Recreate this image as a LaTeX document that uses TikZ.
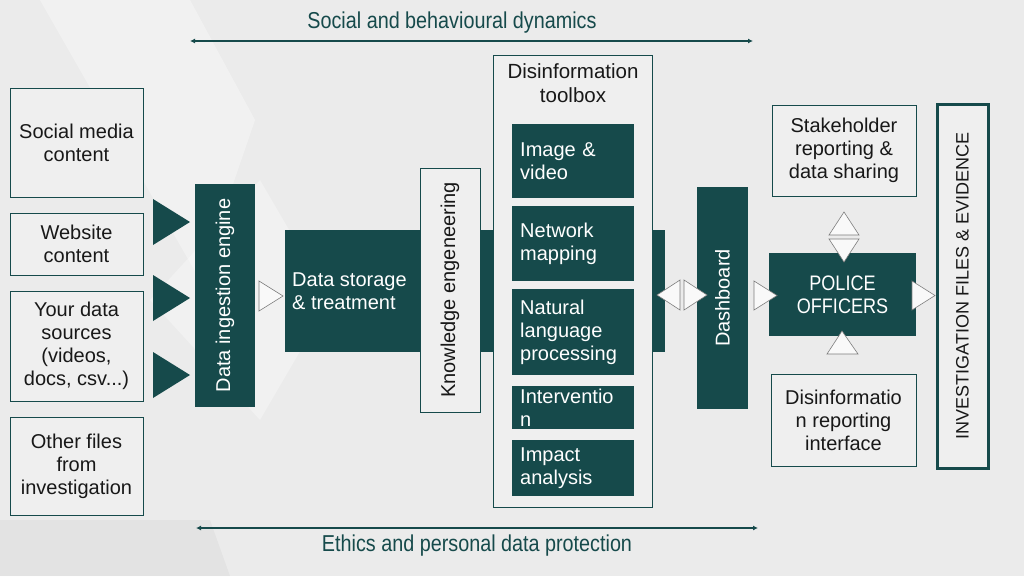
\documentclass[tikz,border=0pt]{standalone}
\usepackage{fontspec}
\setmainfont{Liberation Sans}
\newfontfamily\condfont[FakeStretch=0.86]{Liberation Sans}
\usetikzlibrary{arrows.meta,calc}
\definecolor{tealbox}{RGB}{22,74,75}
\definecolor{bggrey}{RGB}{235,235,235}
\definecolor{boxfill}{RGB}{239,239,239}
\definecolor{trigrey}{RGB}{125,125,125}
\definecolor{inktext}{RGB}{24,24,24}
\tikzset{
  srcbox/.style={draw=tealbox,line width=0.9pt,fill=boxfill,text=inktext,align=center,
    font=\fontsize{20}{23}\selectfont,inner sep=0pt},
  darkbox/.style={fill=tealbox,text=white,font=\fontsize{20}{23}\selectfont,inner sep=0pt},
  toolitem/.style={darkbox,text width=106,align=left,inner xsep=8pt,inner ysep=0pt,anchor=north west},
  hollowtri/.style={fill=boxfill!40!white,draw=trigrey,line width=0.6pt},
  solidtri/.style={fill=tealbox},
  spanline/.style={draw=tealbox,line width=1.1pt,{Latex[length=5pt,width=5pt]}-{Latex[length=5pt,width=5pt]}},
  spanlbl/.style={text=tealbox,font=\condfont\fontsize{23}{26}\selectfont}
}

\begin{document}
\begin{tikzpicture}[x=1pt,y=-1pt]
  \fill[bggrey] (0,0) rectangle (1024,576);
  \useasboundingbox (0,0) rectangle (1024,576);
  % faint background planes
  \fill[white,opacity=0.35] (40,0) -- (190,0) -- (255,120) -- (200,280) -- cycle;
  \fill[white,opacity=0.3] (150,300) -- (260,180) -- (330,300) -- (260,420) -- cycle;
  \fill[black,opacity=0.03] (0,520) -- (210,520) -- (230,576) -- (0,576) -- cycle;

  % span arrows
  \coordinate (socL) at (190,41);
  \coordinate (socR) at (753,41);
  \draw[spanline] (socL) -- (socR);
  \node[spanlbl] (soclbl) at (452,23) {Social and behavioural dynamics};
  \coordinate (ethL) at (196,528);
  \coordinate (ethR) at (758,528);
  \draw[spanline] (ethL) -- (ethR);
  \node[spanlbl] (ethlbl) at (477,546) {Ethics and personal data protection};

  % sources
  \node[srcbox,minimum width=133,minimum height=109] (social) at (76.5,142.5) {Social media\\content};
  \node[srcbox,minimum width=133,minimum height=62] (website) at (76.5,244) {Website\\content};
  \node[srcbox,minimum width=133,minimum height=110] (owndata) at (76.5,346) {Your data\\sources\\(videos,\\docs, csv...)};
  \node[srcbox,minimum width=133,minimum height=98] (otherfiles) at (76.5,466) {Other files\\from\\investigation};
  \foreach \ty in {222,298,375}
    \fill[solidtri] (153,\ty-23) -- (190,\ty) -- (153,\ty+23) -- cycle;

  % ingestion and storage
  \node[darkbox,rotate=90,minimum width=223,minimum height=60] (ingest) at (225,295.5) {Data ingestion engine};
  \node[darkbox,minimum width=380,minimum height=122,anchor=north west] (store) at (285,230) {};
  \node[text=white,align=left,anchor=west,inner sep=0pt,font=\fontsize{20}{23}\selectfont] (storelbl) at (292,291) {Data storage\\\& treatment};
  \node[srcbox,rotate=90,minimum width=244,minimum height=60] (know) at (450,290) {Knowledge engeneering};

  % toolbox
  \node[srcbox,minimum width=159,minimum height=452,anchor=north west] (toolbox) at (493,55) {};
  \node[text=inktext,align=center,font=\fontsize{20.5}{24}\selectfont] (tooltitle) at (573,83) {Disinformation\\toolbox};
  \node[toolitem,minimum height=74] (imgvid) at (512,124) {Image \&\\video};
  \node[toolitem,minimum height=75] (netmap) at (512,206) {Network\\mapping};
  \node[toolitem,minimum height=86] (nlp) at (512,289) {Natural\\language\\processing};
  \node[toolitem,minimum height=43] (interv) at (512,386) {Interventio\\n};
  \node[toolitem,minimum height=56] (impact) at (512,440) {Impact\\analysis};

  % dashboard and police
  \node[darkbox,rotate=90,minimum width=222,minimum height=51] (dash) at (722.5,298) {Dashboard};
  \node[darkbox,minimum width=147,minimum height=83,align=center,
    font=\condfont\fontsize{21}{23}\selectfont] (police) at (842.5,294.5) {POLICE\\OFFICERS};
  \node[srcbox,minimum width=144,minimum height=91] (stake) at (844,150.5) {Stakeholder\\reporting \&\\data sharing};
  \node[srcbox,minimum width=145,minimum height=92] (report) at (843.5,420) {Disinformatio\\n reporting\\interface};
  \node[srcbox,draw=tealbox,line width=3pt,rotate=90,minimum width=364,minimum height=51,
    font=\fontsize{18}{20}\selectfont] (evidence) at (962.5,286) {INVESTIGATION FILES \& EVIDENCE};

  % hollow arrow heads
  \draw[hollowtri] (259,281) -- (283,296) -- (259,311) -- cycle;
  \draw[hollowtri] (680,280) -- (657,295) -- (680,310) -- cycle;
  \draw[hollowtri] (684,280) -- (707,295) -- (684,310) -- cycle;
  \draw[hollowtri] (754,281) -- (777,295.5) -- (754,310) -- cycle;
  \draw[hollowtri] (829,235) -- (844,212) -- (859,235) -- cycle;
  \draw[hollowtri] (829,239) -- (844,262) -- (859,239) -- cycle;
  \draw[hollowtri] (827,354) -- (842,331) -- (858,354) -- cycle;
  \draw[hollowtri] (912,281) -- (935,295.5) -- (912,310) -- cycle;
\end{tikzpicture}
\end{document}
